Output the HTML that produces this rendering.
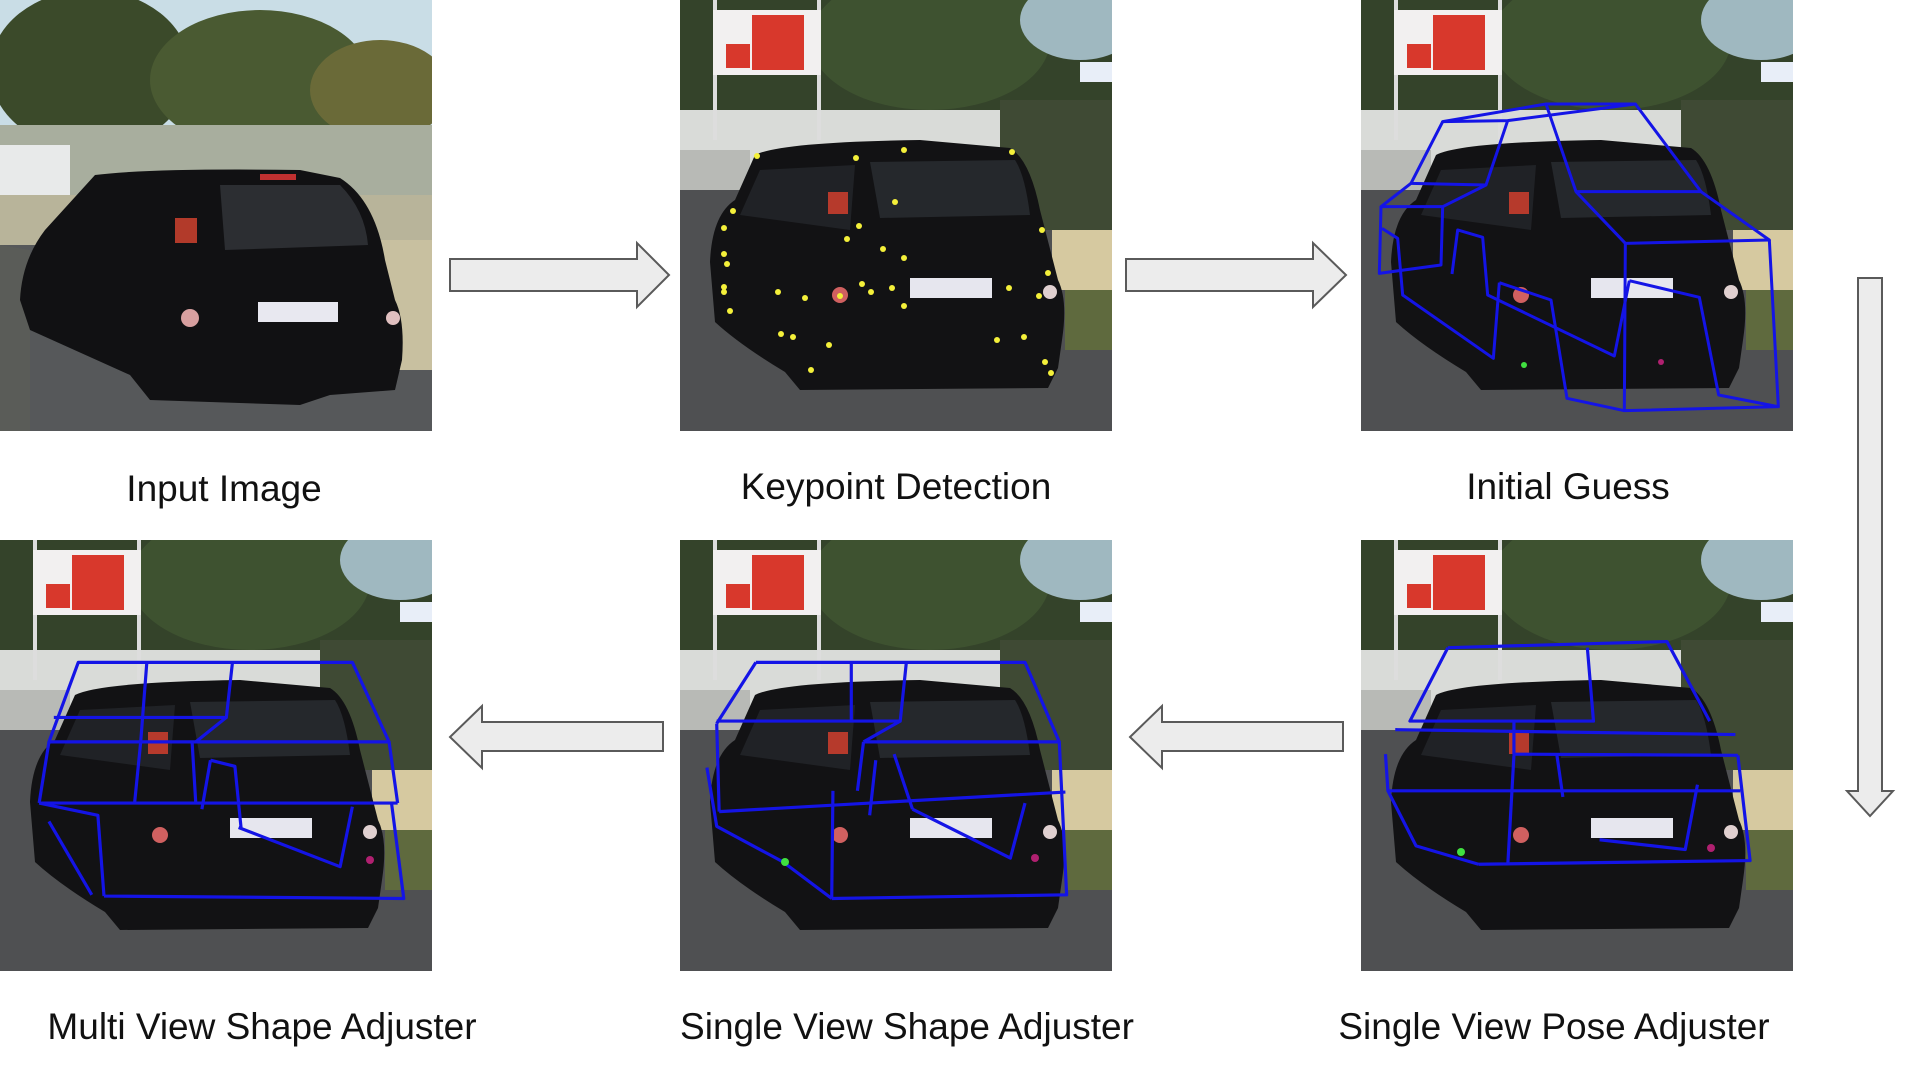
<!DOCTYPE html>
<html><head><meta charset="utf-8"><style>
html,body{margin:0;padding:0;background:#fff;width:1920px;height:1080px;overflow:hidden;position:relative;font-family:"Liberation Sans",sans-serif}
.p{position:absolute;width:432px;height:431px}
.l{position:absolute;font-size:37px;color:#111;white-space:nowrap;transform:translateX(-50%)}
svg{display:block}
</style></head><body>
<svg width="0" height="0" style="position:absolute">
<defs>
<g id="scene">
<rect width="432" height="431" fill="#4f5052"/>
<rect width="432" height="120" fill="#34432a"/>
<ellipse cx="250" cy="40" rx="120" ry="70" fill="#3e5230"/>
<ellipse cx="400" cy="20" rx="60" ry="40" fill="#9fb8c0"/>
<rect x="0" y="110" width="432" height="70" fill="#d9dbd8"/>
<rect x="0" y="150" width="70" height="40" fill="#b8bab6"/>
<rect x="320" y="100" width="112" height="130" fill="#3f4a34"/>
<rect x="33" y="0" width="4" height="140" fill="#ddd"/>
<rect x="137" y="0" width="4" height="140" fill="#ddd"/>
<rect x="33" y="10" width="108" height="65" fill="#f2f0f0"/>
<rect x="72" y="15" width="52" height="55" fill="#d8382c"/>
<rect x="46" y="44" width="24" height="24" fill="#d8382c"/>
<rect x="400" y="62" width="32" height="20" fill="#e8eef8"/>
<rect x="372" y="230" width="60" height="60" fill="#d6c9a0"/>
<rect x="385" y="290" width="47" height="60" fill="#5f6a3e"/>
<path d="M75,155 Q100,142 240,140 L330,148 Q350,160 360,210 L378,280 Q388,300 382,340 L378,368 L368,388 L120,390 L105,372 Q60,345 35,322 L30,262 Q32,215 55,200 Z" fill="#121214"/>
<path d="M190,162 L335,160 Q345,175 350,215 L200,218 Z" fill="#25282c"/>
<path d="M80,170 L175,165 L170,230 L60,215 Z" fill="#202226"/>
<rect x="148" y="192" width="20" height="22" fill="#b63a2c"/>
<rect x="230" y="278" width="82" height="20" fill="#e6e6ee"/>
<circle cx="160" cy="295" r="8" fill="#d06060"/>
<circle cx="370" cy="292" r="7" fill="#e0d0d0"/>
</g>
</defs>
</svg>

<div class="p" style="left:0;top:0"><svg width="432" height="431">
<rect width="432" height="431" fill="#56585a"/>
<rect width="432" height="140" fill="#c9dde6"/>
<ellipse cx="90" cy="70" rx="100" ry="80" fill="#3b4a2a"/>
<ellipse cx="260" cy="80" rx="110" ry="70" fill="#4a5a32"/>
<ellipse cx="380" cy="90" rx="70" ry="50" fill="#6a6a38"/>
<rect x="0" y="125" width="432" height="70" fill="#a8ae9e"/>
<rect x="0" y="145" width="70" height="50" fill="#e8eaea"/>
<rect x="0" y="195" width="432" height="50" fill="#b8b49a"/>
<rect x="380" y="240" width="52" height="130" fill="#c8c0a0"/>
<path d="M0,245 L30,250 L30,431 L0,431 Z" fill="#5a5c58"/>
<path d="M95,175 Q150,168 300,170 L340,178 Q375,200 385,260 L395,300 Q405,320 402,360 L395,390 L330,395 L300,405 L150,400 L130,375 L30,330 L20,300 Q22,260 45,230 Z" fill="#111113"/>
<path d="M220,185 L340,185 Q365,210 368,245 L225,250 Z" fill="#2c2e32"/>
<rect x="175" y="218" width="22" height="25" fill="#b23a2a"/>
<rect x="258" y="302" width="80" height="20" fill="#e8e8f0"/>
<rect x="260" y="174" width="36" height="6" fill="#c03030"/>
<circle cx="190" cy="318" r="9" fill="#d8a0a0"/>
<circle cx="393" cy="318" r="7" fill="#e0c0c0"/>
</svg></div>

<div class="p" style="left:680px;top:0"><svg width="432" height="431"><use href="#scene"/>
<g fill="#f4f03a">
<circle cx="77" cy="156" r="3"/><circle cx="176" cy="158" r="3"/><circle cx="224" cy="150" r="3"/><circle cx="332" cy="152" r="3"/>
<circle cx="53" cy="211" r="3"/><circle cx="44" cy="228" r="3"/><circle cx="215" cy="202" r="3"/><circle cx="179" cy="226" r="3"/>
<circle cx="167" cy="239" r="3"/><circle cx="203" cy="249" r="3"/><circle cx="224" cy="258" r="3"/><circle cx="362" cy="230" r="3"/>
<circle cx="44" cy="254" r="3"/><circle cx="47" cy="264" r="3"/><circle cx="44" cy="287" r="3"/><circle cx="44" cy="292" r="3"/>
<circle cx="98" cy="292" r="3"/><circle cx="125" cy="298" r="3"/><circle cx="182" cy="284" r="3"/><circle cx="191" cy="292" r="3"/>
<circle cx="212" cy="288" r="3"/><circle cx="224" cy="306" r="3"/><circle cx="329" cy="288" r="3"/><circle cx="368" cy="273" r="3"/>
<circle cx="359" cy="296" r="3"/><circle cx="50" cy="311" r="3"/><circle cx="101" cy="334" r="3"/><circle cx="113" cy="337" r="3"/>
<circle cx="149" cy="345" r="3"/><circle cx="317" cy="340" r="3"/><circle cx="344" cy="337" r="3"/><circle cx="131" cy="370" r="3"/>
<circle cx="365" cy="362" r="3"/><circle cx="371" cy="373" r="3"/><circle cx="160" cy="296" r="3"/>
</g></svg></div>

<div class="p" style="left:1361px;top:0"><svg width="432" height="431"><use href="#scene"/>
<g transform="translate(15,0) scale(0.33333)" fill="none" stroke="#1414e6" stroke-width="9" stroke-linejoin="round">
<path d="M200,365 L510,312 L778,312 L395,362 Z"/>
<path d="M200,365 L105,550 L330,555 L395,362"/>
<path d="M510,312 L600,575 L975,575 L778,312"/>
<path d="M105,550 L15,620 L200,620 L330,555"/>
<path d="M600,575 L748,730 L1180,720 L975,575"/>
<path d="M15,620 L10,820 L195,795 L200,620"/>
<path d="M748,730 L745,1232 L1207,1220 L1180,720"/>
<path d="M760,842 L715,1068 L335,885 L320,712 L245,690 L228,822"/>
<path d="M760,842 L970,892 L1028,1185 L1207,1220"/>
<path d="M370,848 L525,900 L573,1195 L745,1232"/>
<path d="M370,848 L352,1075 L80,885 L65,715 L18,685"/>
</g>
<circle cx="163" cy="365" r="3" fill="#40e040"/><circle cx="300" cy="362" r="3" fill="#b02070"/>
</svg></div>

<div class="p" style="left:0;top:540px"><svg width="432" height="431"><use href="#scene"/>
<g transform="scale(1.2235)" fill="none" stroke="#1414e6" stroke-width="2.6" stroke-linejoin="round">
<path d="M64,100 L288,100 L318,165 L40,165 Z"/>
<path d="M44,145 L185,145 L190,100 M120,100 L115,165 M185,145 L160,165"/>
<path d="M32,215 L325,215 M40,165 L32,215 M318,165 L325,215"/>
<path d="M115,165 L110,215 M157,165 L160,215"/>
<path d="M85,291 L330,293 L320,215 M85,291 L80,225 L32,215 M40,230 L75,290"/>
<path d="M195,235 L278,267 L288,218"/>
<path d="M172,180 L192,185 L197,235 M172,180 L165,220"/>
</g>
<circle cx="370" cy="320" r="4" fill="#b02070"/>
</svg></div>

<div class="p" style="left:680px;top:540px"><svg width="432" height="431"><use href="#scene"/>
<g transform="scale(1.2235)" fill="none" stroke="#1414e6" stroke-width="2.6" stroke-linejoin="round">
<path d="M62,100 L282,100 L310,165 L150,165 M62,100 L30,150"/>
<path d="M30,148 L180,148 L185,100 M140,100 L140,148 M180,148 L150,165"/>
<path d="M32,222 L315,206 M150,165 L145,205 M30,150 L32,222"/>
<path d="M124,293 L316,290 L310,165 M124,293 L125,205"/>
<path d="M22,186 L30,234 L84,263 L124,293"/>
<path d="M190,220 L270,260 L282,215 M175,175 L190,220 M160,180 L155,225"/>
</g>
<circle cx="355" cy="318" r="4" fill="#b02070"/><circle cx="105" cy="322" r="4" fill="#40e040"/>
</svg></div>

<div class="p" style="left:1361px;top:540px"><svg width="432" height="431"><use href="#scene"/>
<g transform="scale(1.2235)" fill="none" stroke="#1414e6" stroke-width="2.6" stroke-linejoin="round">
<path d="M71,88 L250,83 L285,148 M71,88 L40,148 L190,148 L185,88"/>
<path d="M28,155 L306,159 M125,148 L125,175 L308,176"/>
<path d="M22,205 L310,205 M96,265 L318,262 L308,176 M125,176 L120,265"/>
<path d="M20,175 L22,205 L45,250 L96,265"/>
<path d="M195,245 L265,253 L275,200 M160,175 L165,210"/>
</g>
<circle cx="100" cy="312" r="4" fill="#40e040"/><circle cx="350" cy="308" r="4" fill="#b02070"/>
</svg></div>

<svg width="1920" height="1080" style="position:absolute;left:0;top:0;pointer-events:none">
<g fill="#ececec" stroke="#5a5a5a" stroke-width="2">
<path d="M450,259 L637,259 L637,243 L669,275 L637,307 L637,291 L450,291 Z"/>
<path d="M1126,259 L1313,259 L1313,243 L1346,275 L1313,307 L1313,291 L1126,291 Z"/>
<path d="M1858,278 L1882,278 L1882,791 L1893,791 L1870,816 L1847,791 L1858,791 Z"/>
<path d="M663,722 L482,722 L482,706 L450,737 L482,768 L482,751 L663,751 Z"/>
<path d="M1343,722 L1162,722 L1162,706 L1130,737 L1162,768 L1162,751 L1343,751 Z"/>
</g></svg>

<div class="l" style="left:224px;top:468px">Input Image</div>
<div class="l" style="left:896px;top:466px">Keypoint Detection</div>
<div class="l" style="left:1568px;top:466px">Initial Guess</div>
<div class="l" style="left:262px;top:1006px">Multi View Shape Adjuster</div>
<div class="l" style="left:907px;top:1006px">Single View Shape Adjuster</div>
<div class="l" style="left:1554px;top:1006px">Single View Pose Adjuster</div>
</body></html>
